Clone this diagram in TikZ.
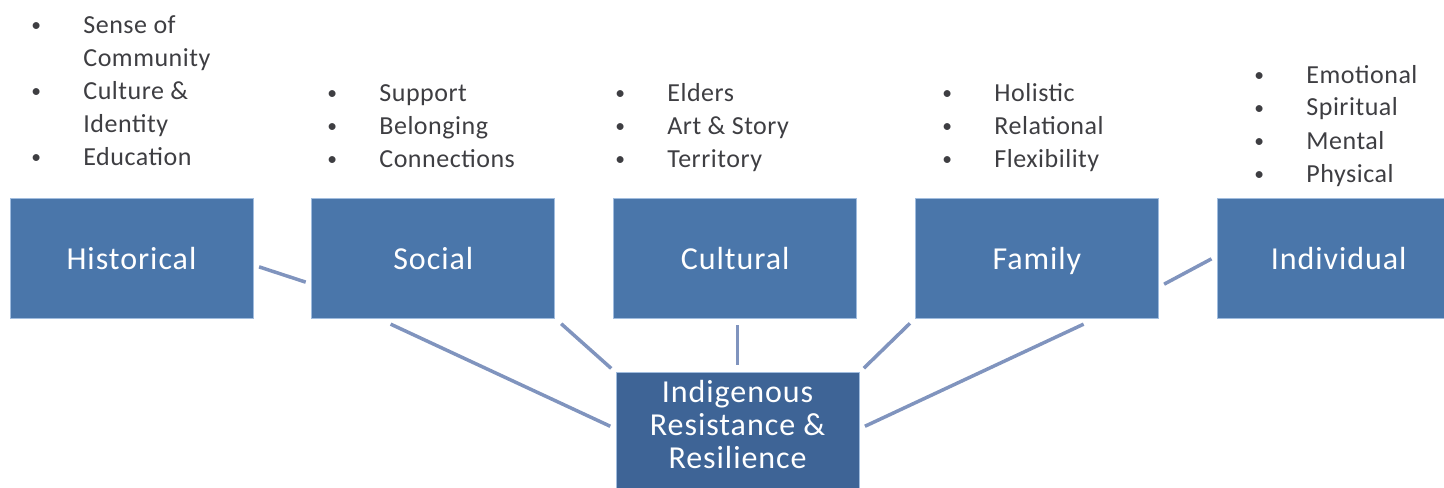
\documentclass[tikz,border=0pt]{standalone}
\usepackage{graphicx}
\usepackage{fontspec}
\setmainfont{Carlito}
\newfontfamily\boxfont{Carlito}[LetterSpace=3]
\newfontfamily\listfont{Carlito}[LetterSpace=2]
\usetikzlibrary{positioning}

\definecolor{boxblue}{RGB}{74,118,170}
\definecolor{coreblue}{RGB}{62,100,150}
\definecolor{linkblue}{RGB}{128,148,190}
\definecolor{edgeblue}{RGB}{160,188,222}
\definecolor{listgray}{RGB}{62,62,66}

\newcommand{\itm}[1]{\makebox[26.5pt][l]{\hspace{0.5pt}\raisebox{0.15ex}{\scalebox{0.75}{\textbullet}}}#1\\}
\newcommand{\cnt}[1]{\hspace*{26.5pt}#1\\}
\newcommand{\lst}[1]{\begin{tabular}[t]{@{}l@{}}#1\end{tabular}}

\begin{document}
\begin{tikzpicture}[x=0.5pt,y=-0.5pt,node distance=29pt,
    box/.style={rectangle,fill=boxblue,draw=edgeblue,line width=0.4pt,
      minimum width=121.5pt,minimum height=60pt,inner sep=0pt,
      text=white,font=\boxfont\fontsize{16}{16.5}\selectfont,
      text height=12pt,text depth=1pt},
    core/.style={box,fill=coreblue,align=center,text height=,text depth=8.2pt},
    list/.style={anchor=base west,inner sep=0pt,text=listgray,
      font=\listfont\fontsize{13}{16.5}\selectfont},
    link/.style={draw=linkblue,line width=1.75pt,shorten <=3pt,shorten >=3pt}]
    \useasboundingbox (0,0) rectangle (1444,487);
    \clip (0,0) rectangle (1444,487);

    \node[box]                  (hist) at (131.5,258) {Historical};
    \node[box,right=of hist]    (social)              {Social};
    \node[box,right=of social]  (cult)                {Cultural};
    \node[box,right=of cult]    (fam)                 {Family};
    \node[box,right=of fam]     (ind)                 {Individual};
    \node[core,below=27pt of cult,xshift=1.25pt] (core)
      {Indigenous\\Resistance \&\\Resilience};

    \node[list] (histlist)   at (30,33)   {\lst{\itm{Sense of}\cnt{Community}\itm{Culture \&}\cnt{Identity}\itm{Education}}};
    \node[list] (sociallist) at (326,101) {\lst{\itm{Support}\itm{Belonging}\itm{Connections}}};
    \node[list] (cultlist)   at (614,101) {\lst{\itm{Elders}\itm{Art \& Story}\itm{Territory}}};
    \node[list] (famlist)    at (941,101) {\lst{\itm{Holistic}\itm{Relational}\itm{Flexibility}}};
    \node[list] (indlist)    at (1253,83) {\lst{\itm{Emotional}\itm{Spiritual}\itm{Mental}\itm{Physical}}};

    \draw[link] ([shift={(0,7)}]hist.east) -- ([shift={(0,26)}]social.west);
    \draw[link,shorten <=6.8pt] ([shift={(-55,0)}]social.south) -- ([shift={(0,-4)}]core.west);
    \draw[link,shorten <=4pt] (social.south east) -- (core.north west);
    \draw[link,shorten <=3.5pt,shorten >=3.5pt] (cult.south -| core.north) -- (core.north);
    \draw[link,shorten <=3.5pt] (fam.south west) -- (core.north east);
    \draw[link,shorten <=6.8pt] ([shift={(59,0)}]fam.south) -- ([shift={(0,-4)}]core.east);
    \draw[link] ([shift={(0,29)}]fam.east) -- ([shift={(0,-2)}]ind.west);
  \end{tikzpicture}
\end{document}
